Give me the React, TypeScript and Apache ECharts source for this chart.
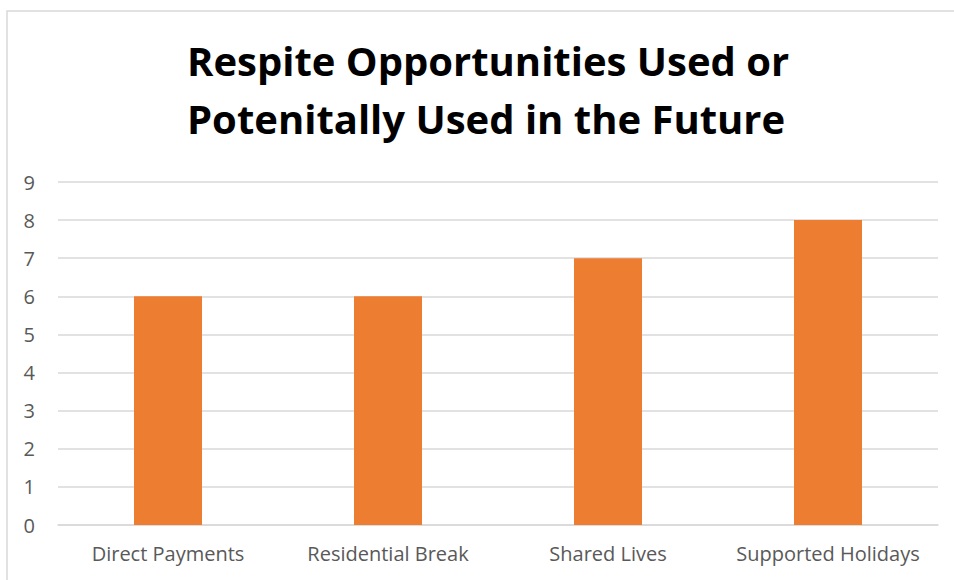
import React, { useEffect, useRef } from "react";
import * as echarts from "echarts";

const categories = ["Direct Payments", "Residential Break", "Shared Lives", "Supported Holidays"];
const values = [6, 6, 7, 8];
const titleText = "Respite Opportunities Used or\nPotenitally Used in the Future";

export default function App() {
  const ref = useRef<HTMLDivElement>(null);
  useEffect(() => {
    const chart = echarts.init(ref.current!, null, { renderer: "svg" });
    chart.setOption({
      animation: false,
      backgroundColor: "#ffffff",
      title: {
        text: titleText,
        left: 182,
        top: 26,
        textAlign: "left",
        textStyle: { fontFamily: "Open Sans", fontWeight: "bold", fontSize: 40, color: "#000", lineHeight: 58, align: "center" },
      },
      graphic: [
        { type: "rect", shape: { x: 7, y: 11, width: 980, height: 620 }, style: { fill: "none", stroke: "#d9d9d9", lineWidth: 1.5 }, silent: true },
      ],
      grid: { left: 58, right: 16, top: 182, bottom: 55 },
      xAxis: {
        type: "category",
        data: categories,
        axisLine: { lineStyle: { color: "#d9d9d9", width: 1.5 } },
        axisTick: { show: false },
        axisLabel: { color: "#595959", fontSize: 20, fontFamily: "Open Sans", margin: 18, interval: 0 },
      },
      yAxis: {
        type: "value",
        min: 0,
        max: 9,
        interval: 1,
        axisLine: { show: false },
        axisTick: { show: false },
        splitLine: { lineStyle: { color: "#d9d9d9", width: 1.5 } },
        axisLabel: { color: "#595959", fontSize: 20, fontFamily: "Open Sans", margin: 23 },
      },
      series: [
        { type: "bar", data: values, barWidth: 68, itemStyle: { color: "#ED7D31" } },
      ],
    });
    return () => chart.dispose();
  }, []);
  return <div ref={ref} style={{ position: "fixed", left: 0, top: 0, width: 954, height: 580 }} />;
}
